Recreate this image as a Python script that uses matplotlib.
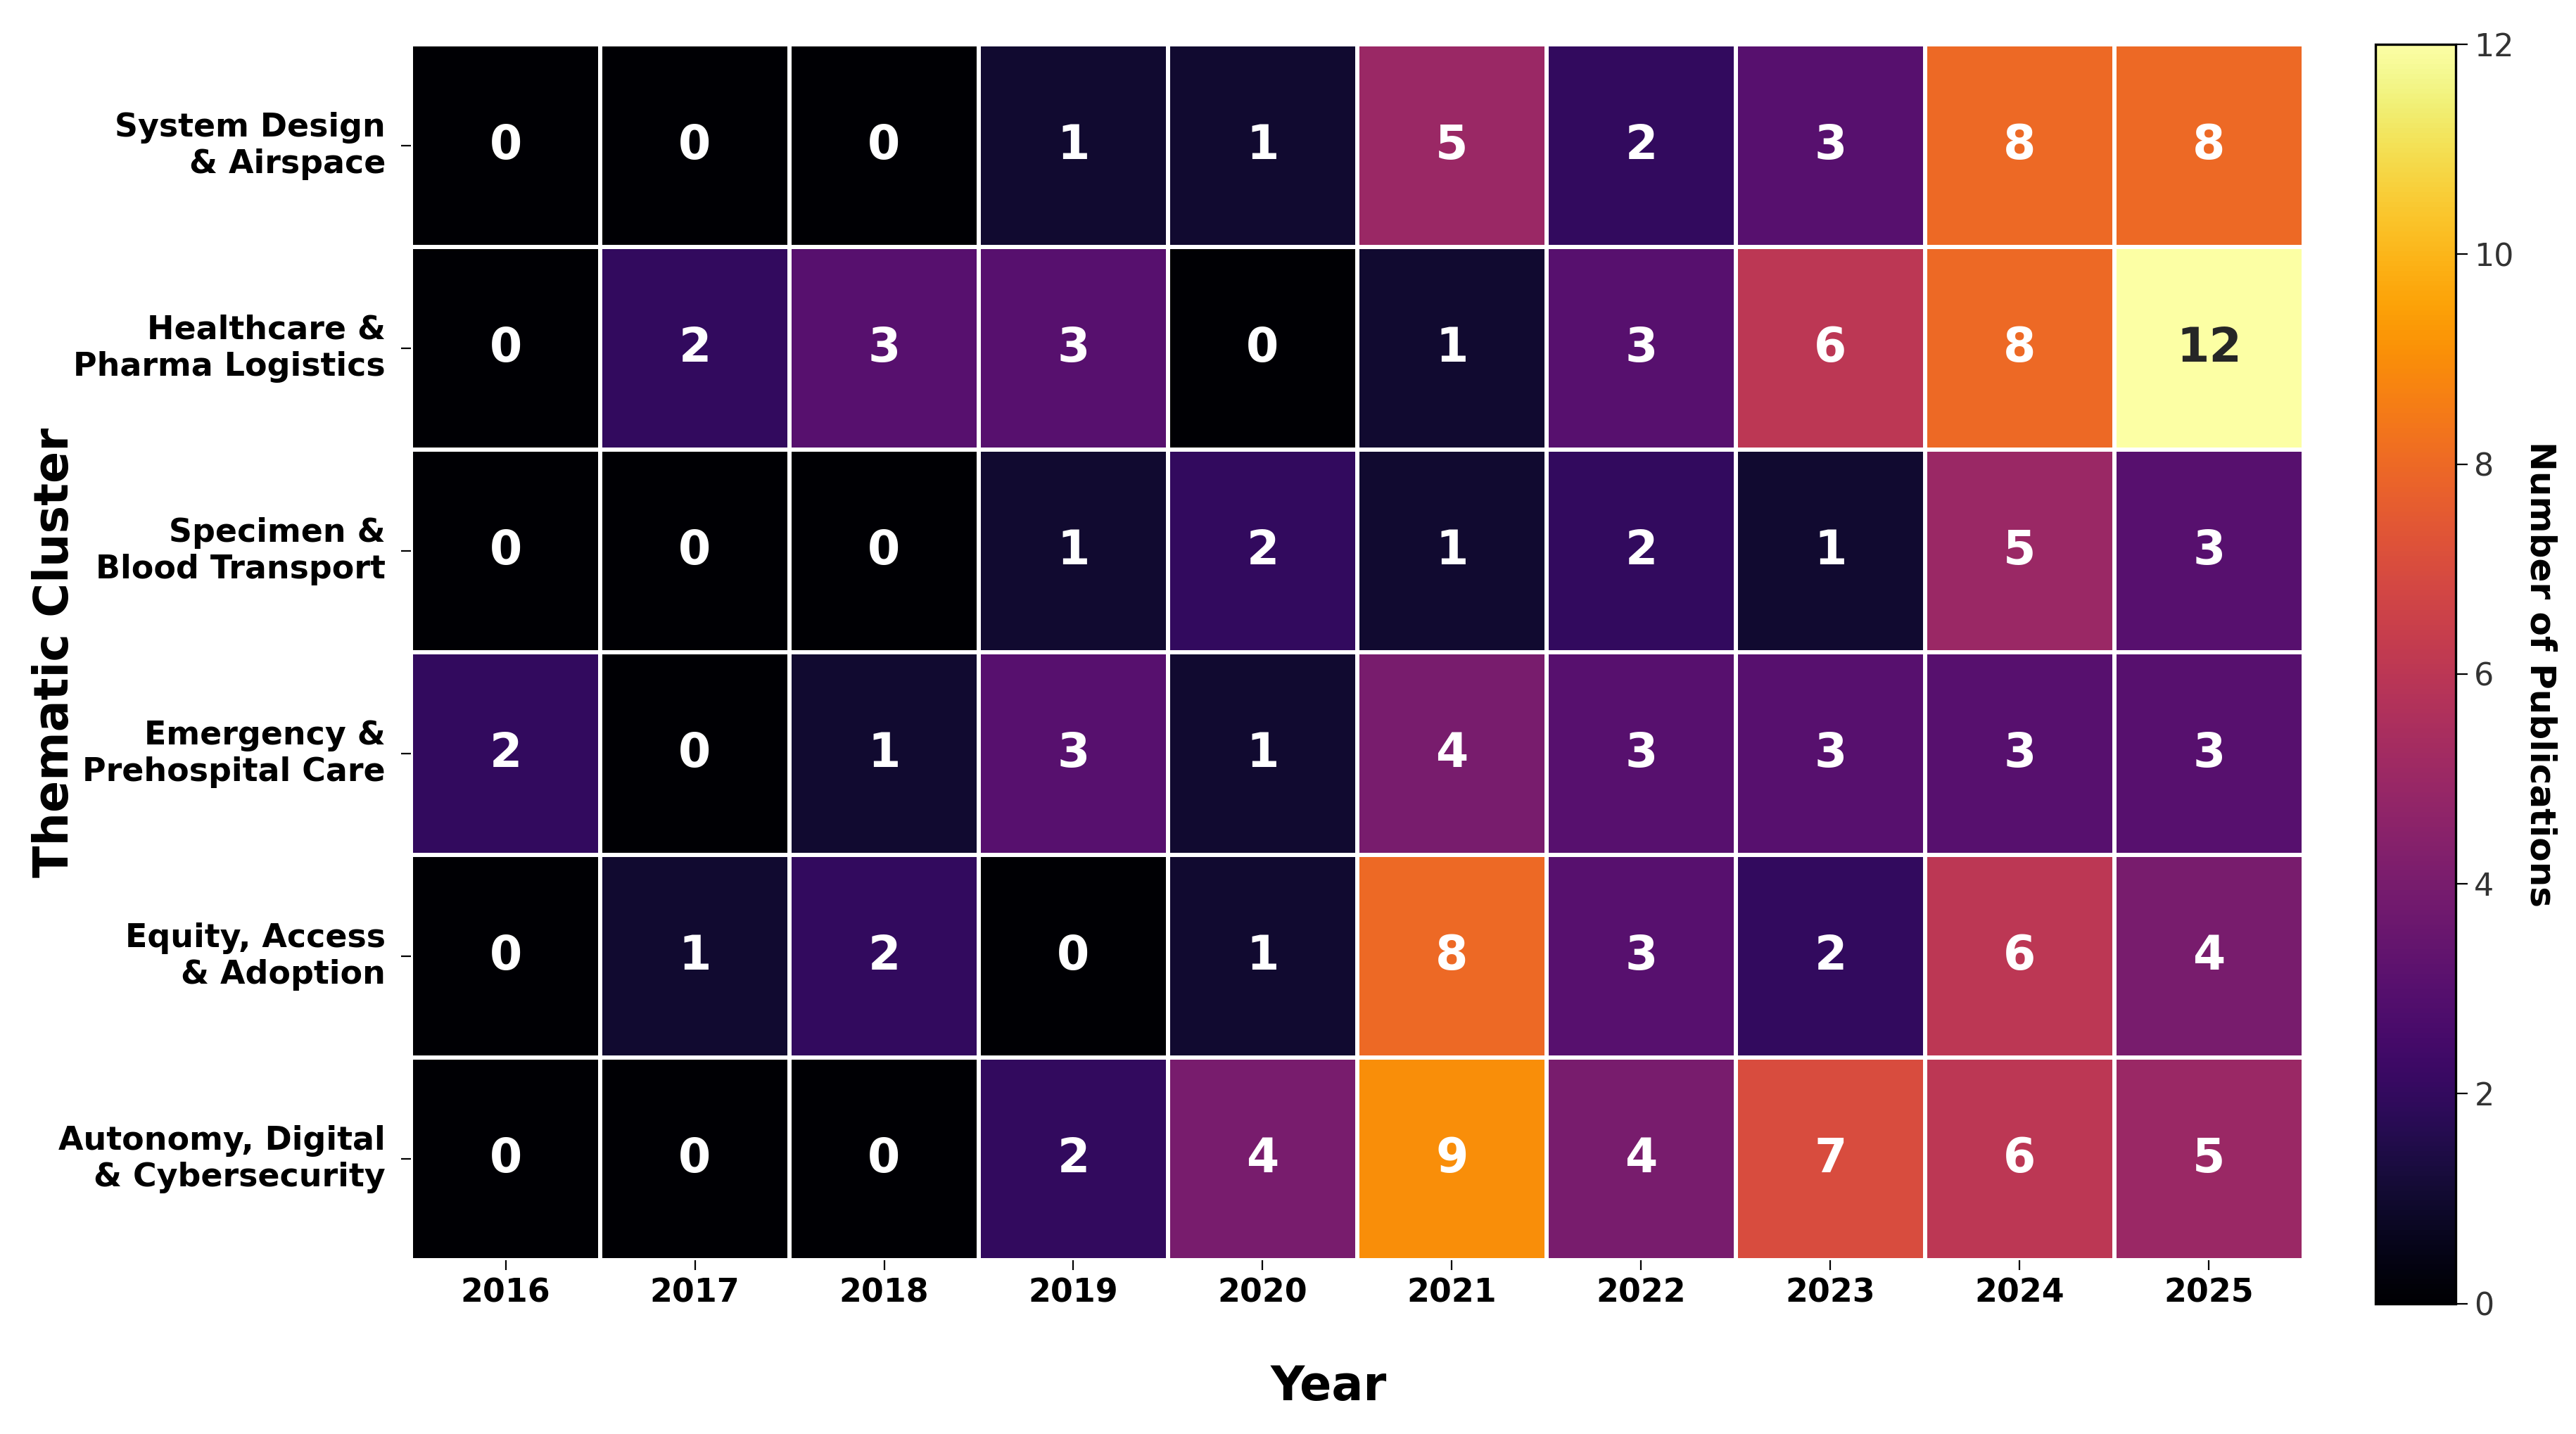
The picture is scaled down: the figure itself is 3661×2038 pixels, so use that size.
import numpy as np
import matplotlib
matplotlib.use("Agg")
import matplotlib.pyplot as plt
import seaborn as sns

# data
years = ["2016", "2017", "2018", "2019", "2020", "2021", "2022", "2023", "2024", "2025"]
clusters = [
    "System Design\n& Airspace",
    "Healthcare &\nPharma Logistics",
    "Specimen &\nBlood Transport",
    "Emergency &\nPrehospital Care",
    "Equity, Access\n& Adoption",
    "Autonomy, Digital\n& Cybersecurity",
]
system_design = [0, 0, 0, 1, 1, 5, 2, 3, 8, 8]
healthcare = [0, 2, 3, 3, 0, 1, 3, 6, 8, 12]
specimen = [0, 0, 0, 1, 2, 1, 2, 1, 5, 3]
emergency = [2, 0, 1, 3, 1, 4, 3, 3, 3, 3]
equity = [0, 1, 2, 0, 1, 8, 3, 2, 6, 4]
autonomy = [0, 0, 0, 2, 4, 9, 4, 7, 6, 5]

counts = np.array([system_design, healthcare, specimen, emergency, equity, autonomy])

plt.rcParams['font.family'] = ['DejaVu Sans']

fig = plt.figure(figsize=(18.31, 10.19), dpi=200)
ax = fig.add_axes([0.1595, 0.121, 0.7345, 0.848])
cax = fig.add_axes([0.922, 0.091, 0.031, 0.878])

sns.heatmap(counts, ax=ax, cbar_ax=cax, cmap="inferno", vmin=0, vmax=12,
            annot=True, fmt="d", linewidths=1.6, linecolor="white",
            annot_kws={"fontsize": 24, "fontweight": "bold"},
            xticklabels=years, yticklabels=clusters)

ax.set_xlabel("Year", fontsize=24, fontweight="bold")
ax.xaxis.set_label_coords(0.485, -0.085)
ax.set_ylabel("Thematic Cluster", fontsize=24, fontweight="bold")
ax.yaxis.set_label_coords(-0.176, 0.5)
ax.tick_params(axis="both", labelsize=16.5, length=5, width=0.8)
ax.tick_params(axis="y", pad=8)
for lbl in ax.get_xticklabels():
    lbl.set_fontweight("bold")
    lbl.set_rotation(0)
for lbl in ax.get_yticklabels():
    lbl.set_fontweight("bold")
    lbl.set_rotation(0)
    lbl.set_horizontalalignment("right")

cbar = ax.collections[0].colorbar
cbar.set_ticks([0, 2, 4, 6, 8, 10, 12])
cbar.ax.tick_params(labelsize=16, length=6, labelcolor="#333333")
cbar.set_label("Number of Publications", fontsize=18, fontweight="bold",
               rotation=270, labelpad=22)
cbar.outline.set_visible(True)
cbar.outline.set_linewidth(1.2)

fig.savefig("out.png", dpi=200, facecolor="white")
